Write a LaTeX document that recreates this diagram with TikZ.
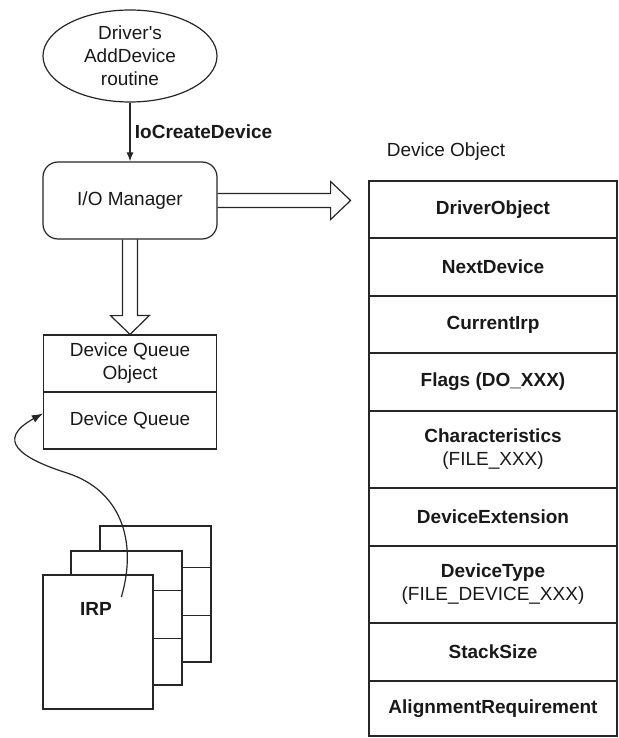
\documentclass[tikz,border=0pt]{standalone}
\usepackage{fontspec}
\setmainfont{Liberation Sans}[Ligatures=TeXOff]

\usetikzlibrary{shapes.geometric,arrows.meta,calc}

\begin{document}
\begin{tikzpicture}[x=1pt,y=-1pt,
  ink/.style={draw=black!85, line width=1.2pt},
  txt/.style={font=\fontsize{19}{23}\selectfont, text=black!90},
  bold/.style={font=\fontsize{19}{23}\selectfont\bfseries, text=black!90},
  oval/.style={ink, txt, ellipse, minimum width=174pt, minimum height=92pt, inner sep=0pt, align=center},
  mgrbox/.style={ink, txt, rectangle, rounded corners=15pt, minimum width=174pt, minimum height=77pt},
  qbox/.style={ink, txt, rectangle, minimum width=173pt, minimum height=57pt, align=center},
  field/.style={ink, bold, rectangle, minimum width=248pt, align=center, inner sep=0pt},
  sheet/.style={ink, fill=white, rectangle, minimum width=111pt, minimum height=135pt, inner sep=0pt},
  hollow/.style={ink, line join=miter},
  callarrow/.style={ink, -{Latex[length=9pt,width=7pt]}},
  irparrow/.style={ink, -{Latex[length=11pt,width=8pt]}}
]
\useasboundingbox (0,0) rectangle (618,738);

% driver routine and the I/O manager it calls
\node[oval] (drv) at (130,56) {Driver's\\AddDevice\\routine};
\node[mgrbox] (mgr) at (130,200.5) {I/O Manager};
\draw[callarrow] (drv.south) -- (mgr.north)
  node[midway, right, bold, xshift=1pt] {IoCreateDevice};

% device queue object
\node[qbox] (dqo) at (130,363.5) {Device Queue\\Object};
\node[qbox] (dq) at (130,420.5) {Device Queue};

% hollow arrow down to the queue object
\draw[hollow] ($(mgr.south)+(-7.5,0)$) -- ++(0,76) -- ++(-12,0) -- (dqo.north)
  -- ++(19.5,-19) -- ++(-12,0) -- ++(0,-76);

% hollow arrow right to the device object
\draw[hollow] ($(mgr.east)+(0,-7)$) -- ++(113,0) -- ++(0,-12) -- ++(20,19)
  -- ++(-20,19) -- ++(0,-12) -- ++(-113,0);

% device object fields
\node[txt] (dolabel) at (446,152) {Device Object};
\node[field, minimum height=57pt] (f1) at (493,209.5) {DriverObject};
\node[field, minimum height=58pt] (f2) at (493,267) {NextDevice};
\node[field, minimum height=57pt] (f3) at (493,324.5) {CurrentIrp};
\node[field, minimum height=58pt] (f4) at (493,382) {Flags (DO\_XXX)};
\node[field, minimum height=77pt] (f5) at (493,449.5) {Characteristics\\\mdseries(FILE\_XXX)};
\node[field, minimum height=58pt] (f6) at (493,517) {DeviceExtension};
\node[field, minimum height=77pt] (f7) at (493,584.5) {DeviceType\\\mdseries(FILE\_DEVICE\_XXX)};
\node[field, minimum height=58pt] (f8) at (493,652) {StackSize};
\node[field, minimum height=55pt] (f9) at (493,708.5) {AlignmentRequirement};

% stack of IRPs
\node[sheet, minimum height=136pt] (s3) at (155.5,594) {};
\draw[ink] ($(s3.north west)+(0,42)$) -- ($(s3.north east)+(0,42)$);
\draw[ink] ($(s3.north west)+(0,90)$) -- ($(s3.north east)+(0,90)$);
\node[sheet, minimum height=134pt] (s2) at (126.5,618) {};
\draw[ink] ($(s2.north west)+(0,40)$) -- ($(s2.north east)+(0,40)$);
\draw[ink] ($(s2.north west)+(0,88)$) -- ($(s2.north east)+(0,88)$);
\node[sheet, minimum width=110pt, minimum height=134pt] (s1) at (98,642) {};
\node[bold] (irp) at (96,609) {IRP};

% the IRP is queued on the device queue
\coordinate (irptail) at ($(irp.east)+(6,-12)$);
\coordinate (qin) at ($(dq.west)+(0,-7)$);
\draw[irparrow] (irptail) .. controls (138,540) and (120,490) .. (67,473)
  .. controls (20,458) and (-5,440) .. (qin);
\end{tikzpicture}
\end{document}
